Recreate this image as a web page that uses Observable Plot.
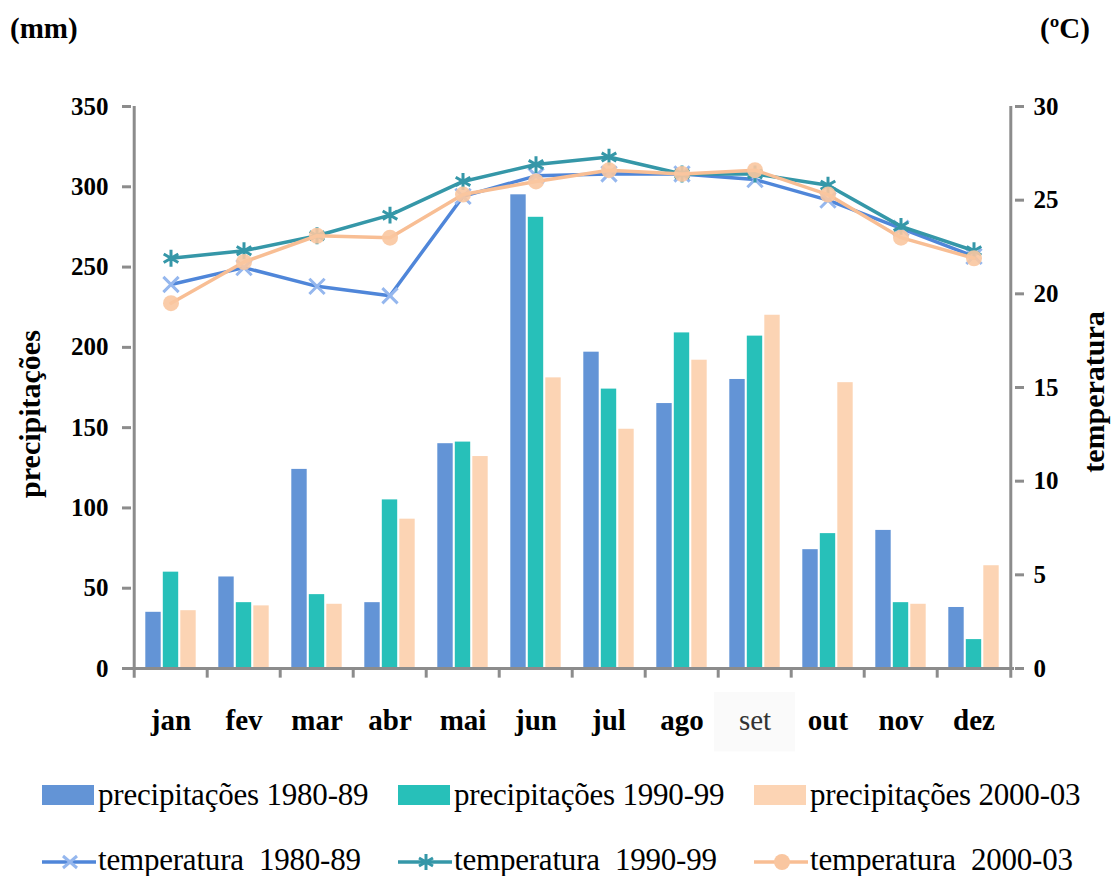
<!DOCTYPE html>
<html><head><meta charset="utf-8">
<script src="https://cdn.jsdelivr.net/npm/d3@7"></script>
<script src="https://cdn.jsdelivr.net/npm/@observablehq/plot@0.6"></script>
<style>
body{margin:0;background:#fff;font-family:"Liberation Serif",serif;}
#wrap{position:relative;width:1114px;height:876px;overflow:hidden;}
#chart{position:absolute;left:0;top:0;}
.unit{position:absolute;font-weight:bold;font-size:29px;top:12px;font-family:"Liberation Serif",serif;}
.ytitle{position:absolute;font-weight:bold;font-size:30px;white-space:nowrap;transform:translate(-50%,-50%) rotate(-90deg);font-family:"Liberation Serif",serif;}
.leg{position:absolute;font-size:31px;white-space:nowrap;line-height:1;font-family:"Liberation Serif",serif;letter-spacing:-0.2px;}
.sw{position:absolute;width:52px;height:20px;}
.lsv{position:absolute;}
</style></head><body>
<div id="wrap">
<div id="chart"></div>
<div class="unit" style="left:10px;">(mm)</div>
<div class="unit" style="left:1040px;">(ºC)</div>
<div class="ytitle" style="left:30px;top:414px;">precipitações</div>
<div class="ytitle" style="left:1094px;top:392px;">temperatura</div>
<div id="legend"></div>
</div>
<script>
const months = ["jan","fev","mar","abr","mai","jun","jul","ago","set","out","nov","dez"];
const prec8089 = [35,57,124,41,140,295,197,165,180,74,86,38];
const prec9099 = [60,41,46,105,141,281,174,209,207,84,41,18];
const prec0003 = [36,39,40,93,132,181,149,192,220,178,40,64];
const temp8089 = [20.5,21.4,20.4,19.9,25.2,26.3,26.4,26.4,26.1,25.0,23.5,22.0];
const temp9099 = [21.9,22.3,23.1,24.2,26.0,26.9,27.3,26.4,26.4,25.8,23.6,22.3];
const temp0003 = [19.5,21.7,23.1,23.0,25.3,26.0,26.6,26.4,26.6,25.3,23.0,21.9];
const mmTicks = [0,50,100,150,200,250,300,350];
const tempTicks = [0,5,10,15,20,25,30];
const seriesNames = ["1980-89","1990-99","2000-03"];

const cBar = ["#6394d6","#27c0b9","#fcd4b4"];
const cLine = ["#4f86d9","#3597a8","#f8be94"];
const cMark = ["#95b7ee","#3597a8","#f9c6a0"];
const k = 350/30; // temperature -> mm axis
const rows = months.map((m,i)=>({month:m, p1:prec8089[i], p2:prec9099[i], p3:prec0003[i],
  t1:temp8089[i]*k, t2:temp9099[i]*k, t3:temp0003[i]*k}));

const W=1114, H=760, ML=131, MR=100, MT=106, MB=92;
const step=(W-ML-MR)/12, off=17.5;
const gray="#8c8c8c";

const plot = Plot.plot({
  width:W, height:H, marginLeft:ML, marginRight:MR, marginTop:MT, marginBottom:MB,
  style:{fontFamily:"Liberation Serif", background:"white", overflow:"visible"},
  x:{type:"band", domain:months, paddingInner:0.762, paddingOuter:0.381, axis:null},
  y:{domain:[0,350], axis:null},
  marks:[
    Plot.barY(["set"],{x:d=>d, y1:-15, y2:-52, fill:"#fafafa", insetLeft:-32, insetRight:-32}),
    Plot.barY(rows,{x:"month", y:"p1", fill:cBar[0], dx:-off, insetLeft:0.8, insetRight:0.8}),
    Plot.barY(rows,{x:"month", y:"p2", fill:cBar[1], dx:0, insetLeft:0.8, insetRight:0.8}),
    Plot.barY(rows,{x:"month", y:"p3", fill:cBar[2], dx:off, insetLeft:0.8, insetRight:0.8}),
    Plot.ruleY([0],{stroke:gray, strokeWidth:3}),
    Plot.ruleX(["jan"],{x:d=>d, y1:-6, y2:350, dx:-step/2, stroke:gray, strokeWidth:3}),
    Plot.ruleX(["dez"],{x:d=>d, y1:-6, y2:350, dx:step/2, stroke:gray, strokeWidth:3}),
    Plot.ruleX(months.slice(1),{x:d=>d, y1:-6, y2:0, dx:-step/2, stroke:gray, strokeWidth:3}),
    Plot.axisY(mmTicks,{anchor:"left", tickSize:9, tickPadding:14, stroke:gray, strokeWidth:3, fill:"black", fontSize:25, fontWeight:"bold", label:null}),
    Plot.axisY(tempTicks.map(t=>t*k),{anchor:"right", tickSize:9, tickPadding:10, stroke:gray, strokeWidth:3, fill:"black", fontSize:25, fontWeight:"bold", label:null, tickFormat:d=>String(Math.round(d/k))}),
    Plot.text(months.filter(m=>m!=="set"),{x:d=>d, y:0, dy:52, fontSize:29, fontWeight:"bold", fill:"black"}),
    Plot.text(months.filter(m=>m==="set"),{x:d=>d, y:0, dy:52, fontSize:29, fontWeight:"normal", fill:"#333"}),
    Plot.line(rows,{x:"month", y:"t1", stroke:cLine[0], strokeWidth:3.5}),
    Plot.dot(rows,{x:"month", y:"t1", symbol:"times", stroke:cMark[0], strokeWidth:3, r:7}),
    Plot.line(rows,{x:"month", y:"t2", stroke:cLine[1], strokeWidth:3.5}),
    Plot.dot(rows,{x:"month", y:"t2", symbol:"asterisk", stroke:cMark[1], strokeWidth:3, r:8}),
    Plot.line(rows,{x:"month", y:"t3", stroke:cLine[2], strokeWidth:3.5}),
    Plot.dot(rows,{x:"month", y:"t3", symbol:"circle", fill:cMark[2], fillOpacity:0.9, r:8})
  ]
});
document.getElementById("chart").appendChild(plot);

// legend
const leg = document.getElementById("legend");
const lx = [42, 398, 754];
seriesNames.forEach((s,i)=>{
  const sw = document.createElement("div");
  sw.className="sw"; sw.style.left=lx[i]+"px"; sw.style.top="785px"; sw.style.background=cBar[i];
  leg.appendChild(sw);
  const t = document.createElement("div");
  t.className="leg"; t.style.left=(lx[i]+56)+"px"; t.style.top="779px";
  t.textContent="precipitações "+s; leg.appendChild(t);
  const sv = document.createElementNS("http://www.w3.org/2000/svg","svg");
  sv.setAttribute("width","56"); sv.setAttribute("height","24");
  sv.setAttribute("class","lsv"); sv.style.left=lx[i]+"px"; sv.style.top="850px";
  let marker="";
  if(i===0) marker=`<path d="M21,6L35,18M35,6L21,18" stroke="${cMark[0]}" stroke-width="3"/>`;
  if(i===1) marker=`<path d="M28,4V20M21,8L35,16M35,8L21,16" stroke="${cMark[1]}" stroke-width="3"/>`;
  if(i===2) marker=`<circle cx="28" cy="12" r="8" fill="${cMark[2]}"/>`;
  sv.innerHTML=`<line x1="0" x2="54" y1="12" y2="12" stroke="${cLine[i]}" stroke-width="3.5"/>`+marker;
  leg.appendChild(sv);
  const t2 = document.createElement("div");
  t2.className="leg"; t2.style.left=(lx[i]+56)+"px"; t2.style.top="844px";
  t2.textContent="temperatura  "+s; t2.style.whiteSpace="pre"; leg.appendChild(t2);
});
</script>
</body></html>
